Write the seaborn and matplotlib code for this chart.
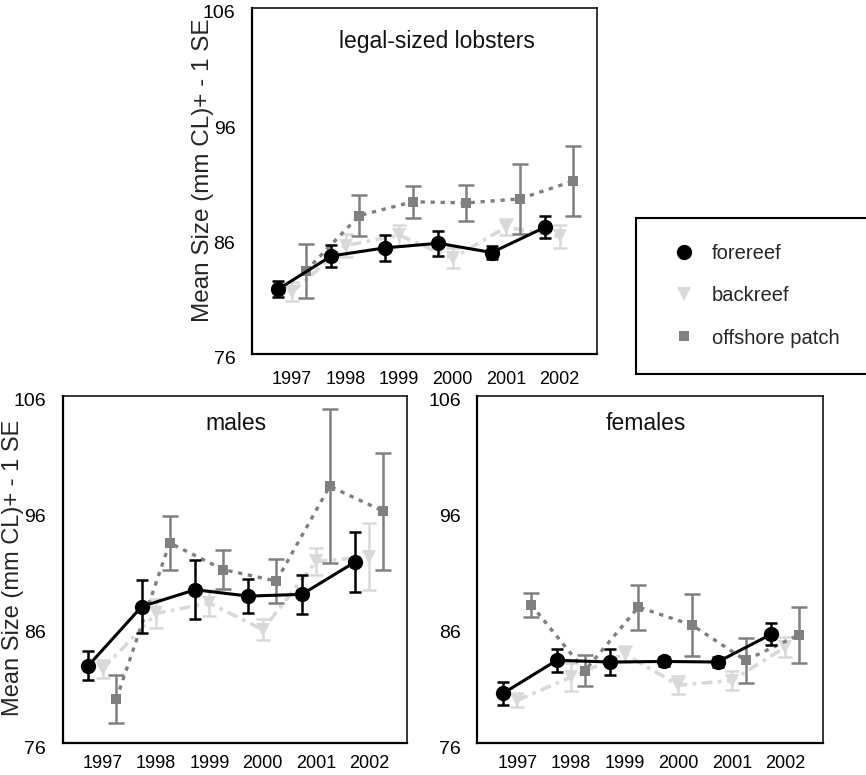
import numpy as np
import pandas as pd
import matplotlib
matplotlib.use("Agg")
import matplotlib.pyplot as plt
import seaborn as sns
from matplotlib.lines import Line2D
from matplotlib.transforms import ScaledTranslation

# ---------------- data ----------------
years = [1997, 1998, 1999, 2000, 2001, 2002]
sites = ["forereef", "backreef", "offshore patch"]
panel_titles = ["legal-sized lobsters", "males", "females"]
yticks = [76, 86, 96, 106]
ylabel_text = "Mean Size (mm CL)+ - 1 SE"

legal_forereef_mean = [81.6, 84.5, 85.2, 85.6, 84.8, 87.0]
legal_forereef_se = [0.7, 0.95, 1.15, 1.1, 0.6, 0.95]
legal_backreef_mean = [81.4, 85.4, 86.3, 84.3, 87.0, 86.2]
legal_backreef_se = [0.8, 1.0, 0.9, 0.85, 0.7, 1.0]
legal_offshore_mean = [83.2, 88.0, 89.2, 89.1, 89.45, 91.0]
legal_offshore_se = [2.35, 1.8, 1.4, 1.55, 3.05, 3.0]

males_forereef_mean = [82.7, 87.8, 89.25, 88.7, 88.85, 91.65]
males_forereef_se = [1.25, 2.3, 2.55, 1.45, 1.7, 2.6]
males_backreef_mean = [82.4, 87.2, 88.1, 85.8, 91.7, 92.1]
males_backreef_se = [0.8, 1.25, 1.1, 0.9, 1.2, 2.9]
males_offshore_mean = [79.8, 93.3, 91.0, 90.0, 98.2, 96.05]
males_offshore_se = [2.1, 2.35, 1.7, 1.9, 6.65, 5.05]

females_forereef_mean = [80.3, 83.15, 83.0, 83.05, 83.0, 85.4]
females_forereef_se = [1.0, 1.0, 1.1, 0.4, 0.4, 0.95]
females_backreef_mean = [79.7, 81.7, 83.7, 81.0, 81.4, 84.3]
females_backreef_se = [0.6, 1.2, 0.7, 0.8, 0.8, 0.9]
females_offshore_mean = [87.95, 82.25, 87.75, 86.2, 83.15, 85.35]
females_offshore_se = [1.05, 1.35, 1.95, 2.65, 1.95, 2.45]

panel_data = {
    "legal-sized lobsters": {
        "forereef": (legal_forereef_mean, legal_forereef_se),
        "backreef": (legal_backreef_mean, legal_backreef_se),
        "offshore patch": (legal_offshore_mean, legal_offshore_se),
    },
    "males": {
        "forereef": (males_forereef_mean, males_forereef_se),
        "backreef": (males_backreef_mean, males_backreef_se),
        "offshore patch": (males_offshore_mean, males_offshore_se),
    },
    "females": {
        "forereef": (females_forereef_mean, females_forereef_se),
        "backreef": (females_backreef_mean, females_backreef_se),
        "offshore patch": (females_offshore_mean, females_offshore_se),
    },
}

rows = []
for panel, d in panel_data.items():
    for site, (means, ses) in d.items():
        for yr, m, s in zip(years, means, ses):
            rows.append(dict(panel=panel, site=site, year=yr, mean=m, se=s))
df = pd.DataFrame(rows)

# ---------------- styling ----------------
DODGE = {"forereef": -0.267, "backreef": 0.0, "offshore patch": 0.256}
STYLE = {
    "forereef": dict(color="black", marker="o", ms=11, lw=2.2, ls="-", z=4, cap=4.5),
    "backreef": dict(color="#d9d9d9", marker="v", ms=10, lw=2.6,
                     ls=(0, (3, 1.5, 1, 1.5)), z=2, cap=5),
    "offshore patch": dict(color="#808080", marker="s", ms=7.5, lw=2.4,
                           ls=(0, (1.3, 1.7)), z=3, cap=5.5),
}
DRAW_ORDER = ["backreef", "offshore patch", "forereef"]

sns.set_theme(style="white")
plt.rcParams["font.family"] = ["Liberation Sans", "DejaVu Sans"]

W, H = 866, 775
fig = plt.figure(figsize=(W / 100, H / 100), dpi=100)
ax_top = fig.add_axes([252 / W, 1 - 354 / H, 345 / W, 346 / H])
ax_m = fig.add_axes([62.7 / W, 1 - 743 / H, 344 / W, 347 / H])
ax_f = fig.add_axes([477.3 / W, 1 - 743 / H, 345.7 / W, 347 / H])
axes = {"legal-sized lobsters": ax_top, "males": ax_m, "females": ax_f}

title_pos = {"legal-sized lobsters": (0.535, 0.904),
             "males": (0.503, 0.92),
             "females": (0.488, 0.92)}
xpad = {"legal-sized lobsters": 10, "males": 7, "females": 7}

for panel in panel_titles:
    ax = axes[panel]
    pdf = df[df.panel == panel]
    for site in DRAW_ORDER:
        st = STYLE[site]
        sub = pdf[pdf.site == site].copy()
        sub["x"] = sub["year"] + DODGE[site]
        ax.errorbar(sub["x"], sub["mean"], yerr=sub["se"], fmt="none",
                    ecolor=st["color"], elinewidth=1.8, capsize=st["cap"],
                    capthick=1.8, zorder=st["z"])
        sns.lineplot(data=sub, x="x", y="mean", ax=ax, color=st["color"],
                     marker=st["marker"], markersize=st["ms"],
                     linewidth=st["lw"], linestyle=st["ls"],
                     markeredgewidth=0, markeredgecolor=st["color"],
                     errorbar=None, legend=False, zorder=st["z"] + 0.5)
    ax.set_xlim(1996.25, 2002.7)
    ax.set_ylim(76, 106)
    ax.set_xticks(years)
    ax.set_xticklabels([str(y) for y in years])
    ax.set_yticks(yticks)
    ax.set_yticklabels([str(y) for y in yticks])
    ax.set_xlabel("")
    ax.set_ylabel("")
    ax.tick_params(axis="x", length=2, width=1.5, color="#e6e600",
                   labelsize=13, pad=xpad[panel], labelcolor="black")
    ax.tick_params(axis="y", length=2, width=1.5, color="#e6e600",
                   labelsize=14, pad=10, labelcolor="black")
    for lab in ax.get_yticklabels():
        lab.set_transform(lab.get_transform() +
                          ScaledTranslation(0, -4 / 100, fig.dpi_scale_trans))
    for side in ["left", "bottom"]:
        ax.spines[side].set_linewidth(1.6)
        ax.spines[side].set_color("black")
    for side in ["top", "right"]:
        ax.spines[side].set_linewidth(1.1)
        ax.spines[side].set_color("black")
    tx, ty = title_pos[panel]
    ax.text(tx, ty, panel, transform=ax.transAxes, ha="center", va="center",
            fontsize=16.5, color="#111111")

ax_top.text(-0.142, 0.53, ylabel_text, transform=ax_top.transAxes,
            rotation=90, ha="center", va="center", fontsize=17.5)
ax_m.text(-0.145, 0.505, ylabel_text, transform=ax_m.transAxes,
          rotation=90, ha="center", va="center", fontsize=17)

handles = [Line2D([], [], color=STYLE[s]["color"], marker=STYLE[s]["marker"],
                  ls="none", ms=STYLE[s]["ms"], mew=0) for s in sites]
leg = fig.legend(handles, sites, loc="upper left",
                 bbox_to_anchor=(636 / W, 1 - 366 / H, 0.3, 148 / H),
                 mode="expand", frameon=True, fancybox=False,
                 edgecolor="black", framealpha=1, fontsize=14.5,
                 borderpad=1.3, labelspacing=1.15, handlelength=2.2,
                 handletextpad=0.25, borderaxespad=0)
leg.get_frame().set_linewidth(1.5)

fig.savefig("out.png", dpi=100)
